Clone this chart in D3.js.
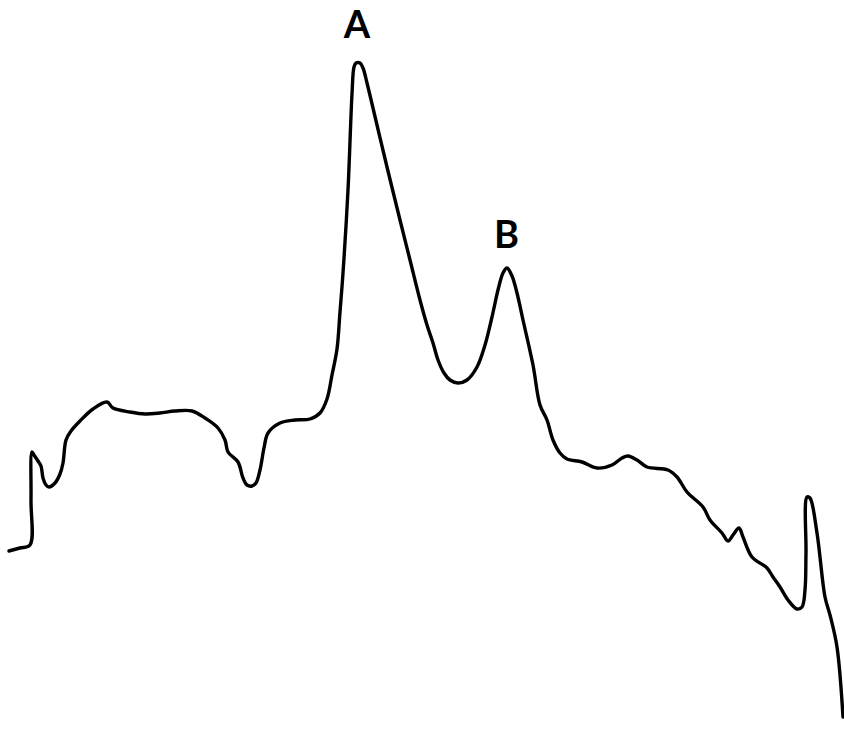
<!DOCTYPE html>
<html><head><meta charset="utf-8">
<script src="https://cdn.jsdelivr.net/npm/d3@7"></script>
<style>html,body{margin:0;padding:0;background:#fff;}svg{display:block;}</style>
</head><body>
<svg id="chart" width="844" height="732"></svg>
<script>
// Retention time (arbitrary units) and detector signal (arbitrary units)
const time = [0.9,2.0,3.0,3.1,3.2,3.4,3.8,4.1,4.3,4.6,4.9,5.5,6.0,6.3,6.6,7.1,8.0,9.3,10.7,11.3,13.0,14.5,16.0,17.5,19.2,20.5,21.8,22.5,22.8,23.8,24.3,24.7,25.2,25.6,26.0,26.4,26.8,28.0,29.5,31.0,32.0,32.7,33.2,33.7,34.0,34.3,34.8,35.2,35.4,35.6,36.0,36.3,36.7,37.7,38.7,40.0,41.0,42.0,42.7,43.3,43.8,44.4,45.0,45.8,46.7,47.7,48.5,49.2,49.8,50.3,50.7,51.2,51.7,52.3,53.3,54.0,54.7,55.3,56.0,56.7,58.2,59.7,61.2,62.2,62.8,63.7,64.7,66.8,67.7,68.7,70.3,71.0,72.2,72.8,73.3,73.9,74.3,75.2,76.7,77.3,78.0,78.8,79.7,80.2,80.5,80.6,80.7,81.0,81.7,82.5,83.0,83.7,84.3];
const signal = [18.1,18.4,18.7,23.2,28.0,27.7,27.1,26.6,25.4,24.7,24.5,24.9,25.8,26.9,29.2,30.1,31.1,32.3,33.0,32.4,32.0,31.8,31.9,32.1,32.1,31.4,30.4,29.2,28.0,27.0,25.4,24.7,24.6,24.9,26.2,28.4,29.9,30.9,31.2,31.3,31.9,33.3,35.7,38.3,42.0,45.9,54.2,63.8,66.5,66.9,66.9,66.4,64.9,60.7,56.5,51.2,47.2,43.2,40.7,38.9,37.2,35.9,35.2,34.9,35.2,36.5,38.7,41.5,44.2,45.9,46.4,45.6,43.9,41.2,36.7,32.7,31.2,29.2,27.9,27.3,27.0,26.4,26.7,27.4,27.6,27.2,26.5,26.2,25.5,24.0,22.5,21.2,19.9,19.1,19.7,20.4,19.5,17.5,16.4,15.5,14.5,13.2,12.3,12.5,14.2,17.9,23.5,23.4,19.9,13.5,11.7,8.5,1.5];
const peakLabels = ["A","B"];
const peakTimes = [35.7,50.65];
const peakLabelSignal = [69.4,48.4];

const W = 844, H = 732;
const svg = d3.select("#chart");
const x = d3.scaleLinear().domain([0,84.4]).range([0,W]);
const y = d3.scaleLinear().domain([0,73.2]).range([H,0]);

const pts = time.map((t,i)=>[t,signal[i]]);
const line = d3.line().x(d=>x(d[0])).y(d=>y(d[1])).curve(d3.curveCatmullRom.alpha(0.5));

svg.append("path").datum(pts)
  .attr("d", line)
  .attr("fill","none")
  .attr("stroke","#000")
  .attr("stroke-width",3.4)
  .attr("stroke-linejoin","round")
  .attr("stroke-linecap","round");

svg.selectAll("text.lab").data(peakLabels).enter().append("text")
  .attr("class","lab")
  .attr("x",(d,i)=>x(peakTimes[i]))
  .attr("y",(d,i)=>y(peakLabelSignal[i]))
  .attr("text-anchor","middle")
  .attr("font-family","Lato, 'DejaVu Sans', sans-serif")
  .attr("font-weight","bold")
  .attr("font-size",38)
  .attr("fill","#000")
  .text(d=>d);
</script>
</body></html>
